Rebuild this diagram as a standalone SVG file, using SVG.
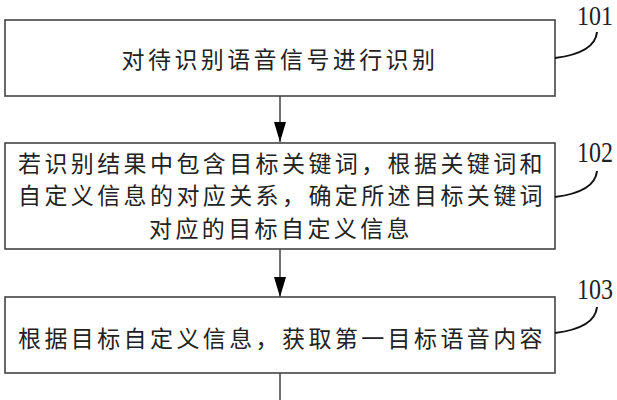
<svg xmlns="http://www.w3.org/2000/svg" width="617" height="400" viewBox="0 0 617 400">
<defs>
<style>
.box{fill:#fff;stroke:#444;stroke-width:1.6}
.t{font-family:"Noto Sans CJK SC","Noto Sans",sans-serif;font-size:23px;letter-spacing:3.4px;fill:#222;text-anchor:middle}
.lbl{font-family:"Liberation Serif","Times New Roman",serif;font-size:24px;fill:#222}
.lead{fill:none;stroke:#111;stroke-width:2}
.ln{stroke:#111;stroke-width:1.2}
</style>
<marker id="ah" markerWidth="20" markerHeight="12" refX="20" refY="6" orient="auto" markerUnits="userSpaceOnUse" viewBox="0 0 20 12">
<path d="M0,0 L20,6 L0,12 Z" fill="#000"/>
</marker>
</defs>
<rect width="617" height="400" fill="#fff"/>
<g id="connectors">
<line class="ln" x1="280" y1="96" x2="280" y2="142" marker-end="url(#ah)"/>
<line class="ln" x1="280" y1="249" x2="280" y2="297" marker-end="url(#ah)"/>
<line class="ln" x1="280" y1="373" x2="280" y2="400"/>
</g>
<g id="n101">
<rect class="box" x="5" y="20" width="550" height="76"/>
<text class="t" x="280" y="68">对待识别语音信号进行识别</text>
<path class="lead" d="M555,58 Q595,53 597,32"/>
<text class="lbl" transform="translate(577,25) scale(1,1.12)">101</text>
</g>
<g id="n102">
<rect class="box" x="5" y="143" width="550" height="106"/>
<text class="t" x="282" y="171.5">若识别结果中包含目标关键词，根据关键词和</text>
<text class="t" x="282" y="204">自定义信息的对应关系，确定所述目标关键词</text>
<text class="t" x="281" y="236.5">对应的目标自定义信息</text>
<path class="lead" d="M555,197 Q595,192 597,171"/>
<text class="lbl" transform="translate(577,162) scale(1,1.2)">102</text>
</g>
<g id="n103">
<rect class="box" x="5" y="297" width="550" height="76"/>
<text class="t" x="282" y="347">根据目标自定义信息，获取第一目标语音内容</text>
<path class="lead" d="M555,333 Q595,328 597,307"/>
<text class="lbl" transform="translate(577,299) scale(1,1.2)">103</text>
</g>
</svg>
